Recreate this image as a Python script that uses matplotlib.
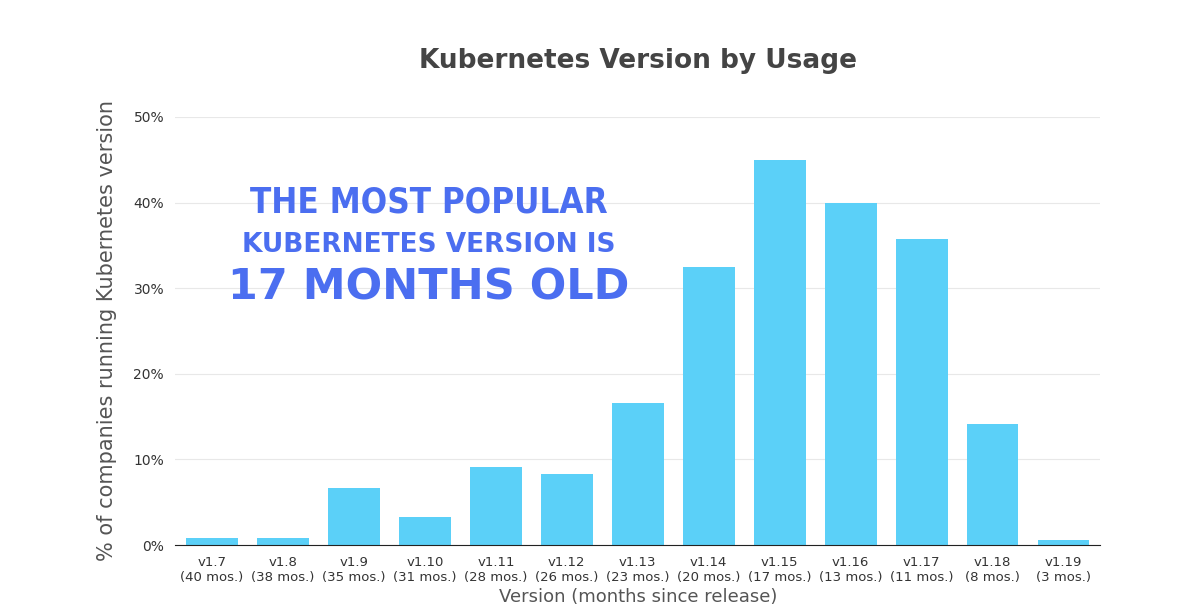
import matplotlib
matplotlib.use("Agg")
import matplotlib.pyplot as plt

versions = ["v1.7","v1.8","v1.9","v1.10","v1.11","v1.12","v1.13","v1.14","v1.15","v1.16","v1.17","v1.18","v1.19"]
months = [40,38,35,31,28,26,23,20,17,13,11,8,3]
usage = [0.8,0.8,6.7,3.3,9.1,8.3,16.6,32.5,45.0,40.0,35.8,14.1,0.6]
yticks = [0,10,20,30,40,50]

fig = plt.figure(figsize=(12,6.09), dpi=100)
ax = fig.add_axes([0.146, 0.105, 0.771, 0.703])
x = range(len(versions))
ax.bar(x, usage, width=0.73, color="#5bd0f8", zorder=2)
ax.set_xlim(-0.52, len(versions)-0.48)
ax.set_ylim(0, 50)
ax.set_yticks(yticks)
ax.set_yticklabels([f"{t}%" for t in yticks], fontsize=10, color="#333333")
ax.set_xticks(list(x))
ax.set_xticklabels([f"{v}\n({m} mos.)" for v, m in zip(versions, months)], fontsize=9.5, color="#333333")
ax.tick_params(length=0, pad=8)
ax.grid(axis="y", color="#e8e8e8", lw=0.8, zorder=0)
for s in ["top","right","left"]:
    ax.spines[s].set_visible(False)
ax.spines["bottom"].set_color("#222222")
ax.set_ylabel("% of companies running Kubernetes version", fontsize=15, color="#555555", labelpad=12)
ax.set_xlabel("Version (months since release)", fontsize=13, color="#555555", labelpad=3)
fig.text(0.532, 0.9, "Kubernetes Version by Usage", ha="center", va="center", fontsize=19, color="#444444", fontweight="semibold")
blue = "#4b6ef0"
fig.text(0.357, 1-203/609, "THE MOST POPULAR", ha="center", va="center", fontsize=25, color=blue, fontweight="heavy", fontstretch="condensed")
fig.text(0.357, 1-245/609, "KUBERNETES VERSION IS", ha="center", va="center", fontsize=19, color=blue, fontweight="heavy")
fig.text(0.357, 1-287/609, "17 MONTHS OLD", ha="center", va="center", fontsize=31, color=blue, fontweight="heavy")
fig.savefig("out.png", dpi=100)
